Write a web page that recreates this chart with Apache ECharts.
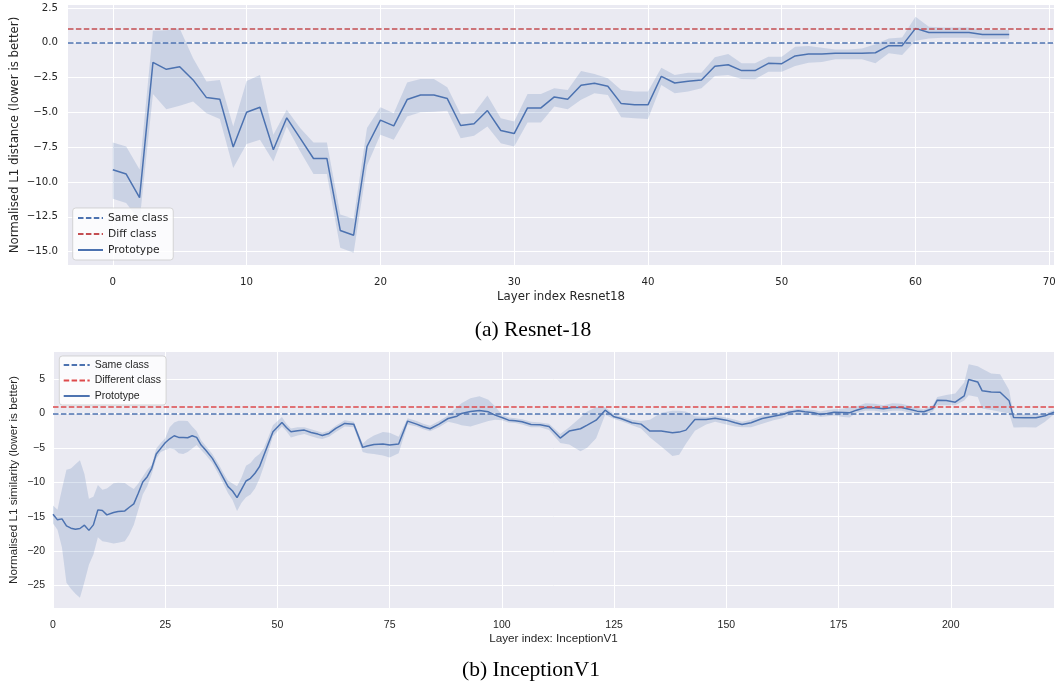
<!DOCTYPE html>
<html><head><meta charset="utf-8">
<script src="https://cdn.jsdelivr.net/npm/echarts@6/dist/echarts.min.js"></script>
<style>html,body{margin:0;padding:0;background:#fff}#c{width:1055px;height:687px}</style>
</head><body><div id="c"></div>
<script>
// ---------- (a) Resnet-18 ----------
const r18Layers = Array.from({length: 68}, (_, i) => i);
const r18Mean = [-9.12,-9.43,-11.12,-1.41,-1.91,-1.72,-2.67,-3.94,-4.06,-7.49,
  -4.99,-4.63,-7.68,-5.39,-6.85,-8.31,-8.31,-13.48,-13.82,-7.45,
  -5.56,-5.97,-4.08,-3.75,-3.75,-4.01,-5.94,-5.82,-4.87,-6.30,
  -6.52,-4.68,-4.68,-3.89,-4.06,-3.05,-2.91,-3.13,-4.37,-4.46,
  -4.46,-2.41,-2.89,-2.77,-2.67,-1.69,-1.58,-2.00,-2.00,-1.48,
  -1.50,-0.95,-0.81,-0.81,-0.76,-0.76,-0.76,-0.72,-0.21,-0.21,
  1.03,0.74,0.74,0.74,0.74,0.60,0.60,0.60];
const r18Upper = [-7.16,-7.45,-9.10,0.86,0.90,1.03,-1.12,-2.79,-2.67,-6.01,
  -2.74,-2.32,-6.60,-4.82,-6.13,-7.16,-7.16,-12.34,-12.63,-6.13,
  -4.63,-5.06,-2.86,-2.60,-2.60,-3.20,-5.13,-5.06,-3.79,-5.42,
  -5.66,-3.68,-3.68,-3.27,-3.39,-2.03,-2.24,-2.55,-3.39,-3.51,
  -3.51,-1.79,-2.32,-2.15,-2.15,-1.05,-0.81,-1.48,-1.48,-1.00,
  -1.00,-0.29,-0.24,-0.36,-0.48,-0.48,-0.41,-0.10,0.31,0.38,
  1.86,1.15,1.10,1.10,1.10,0.91,0.91,0.91];
const r18Lower = [-11.20,-11.50,-12.80,-3.68,-4.77,-4.53,-4.22,-5.06,-5.47,-9.00,
  -7.28,-6.97,-8.52,-6.01,-7.80,-9.43,-9.43,-14.73,-15.08,-8.81,
  -6.61,-6.97,-5.30,-4.99,-4.96,-4.89,-6.85,-6.68,-6.01,-7.21,
  -7.45,-5.73,-5.73,-4.58,-4.77,-4.10,-3.63,-3.75,-5.35,-5.42,
  -5.47,-3.03,-3.63,-3.51,-3.27,-2.39,-2.32,-2.60,-2.63,-2.08,
  -2.08,-1.67,-1.43,-1.38,-1.19,-1.19,-1.19,-1.48,-0.76,-0.88,
  0.14,0.31,0.36,0.36,0.36,0.29,0.29,0.29];
const r18XTicks = [0,10,20,30,40,50,60,70];
const r18YTicks = [2.5,0,-2.5,-5,-7.5,-10,-12.5,-15];
const r18SameClass = 0;
const r18DiffClass = 1;

// ---------- (b) InceptionV1 ----------
const incLayers = [0,1,2,3,4,5,6,7,8,9,10,11,12,13.5,14.5,16,17,18,19,20,
  21,22,23,24,25,26,27,28,29,30,31,32,33,34,35.5,37,38,39,40,41,
  42,43,44,45,46,47,48,49,51,52,53,54.5,56,57.5,59,60,61.5,63,65,67,
  69,70,71.5,73.5,75,77,79,81,82.5,84,86,88,90,91,93,95,97,98.5,100,101.5,
  103,104.5,106.5,108.5,110.5,113,115,117.5,119,121,123,125,126.5,129,131,133,135.5,138,139.5,141,
  143,145.5,147.5,150,152,153.5,155.5,158,160.5,162.5,164,166,167.5,169.5,171,172.5,174,176,177.5,179,
  181,183,185,187,189,191,192.5,194,196,197,199,201,203,204,206,207,209,211,213,214,
  216.5,219,221,223];
const incMean = [-14.65,-15.47,-15.33,-16.34,-16.68,-16.83,-16.73,-16.25,-17.0,-16.2,-14.02,-14.12,-14.75,-14.4,-14.26,-14.17,-13.64,-13.15,-11.6,-9.96,
  -9.19,-7.98,-5.9,-5.08,-4.26,-3.68,-3.24,-3.48,-3.48,-3.53,-3.24,-3.48,-4.59,-5.32,-6.53,-8.22,-9.43,-10.64,-11.27,-12.23,
  -11.03,-9.82,-9.43,-8.7,-7.74,-6.04,-4.35,-2.66,-1.31,-2.03,-2.66,-2.51,-2.42,-2.76,-3.0,-3.19,-2.9,-2.18,-1.45,-1.55,
  -4.93,-4.74,-4.5,-4.45,-4.59,-4.45,-1.11,-1.55,-1.93,-2.22,-1.55,-0.73,-0.39,0,0.29,0.44,0.24,-0.24,-0.58,-0.97,
  -1.06,-1.21,-1.6,-1.64,-1.9,-3.58,-2.56,-2.22,-1.69,-0.97,0.48,-0.48,-0.73,-1.35,-1.55,-2.56,-2.56,-2.8,-2.71,-2.42,
  -0.87,-0.87,-0.68,-0.97,-1.35,-1.6,-1.35,-0.73,-0.39,-0.15,0.19,0.39,0.24,0.1,-0.15,0,0.19,0.15,0.1,0.48,
  0.87,0.82,0.68,0.87,0.87,0.58,0.34,0.24,0.73,1.93,1.89,1.64,2.56,4.93,4.59,3.29,3.14,3.09,1.84,-0.58,
  -0.63,-0.63,-0.34,0.19];
const incLower = [-16.0,-16.9,-19.5,-24.6,-25.5,-26.2,-26.8,-24.5,-22.0,-20.5,-18.0,-18.6,-18.7,-18.9,-18.8,-18.6,-17.6,-16.2,-14.0,-11.8,
  -10.6,-8.8,-6.6,-5.6,-5.3,-5.1,-5.2,-5.8,-5.9,-5.6,-5.1,-4.6,-5.3,-6.0,-7.2,-9.0,-10.3,-11.6,-12.6,-14.2,
  -13.0,-12.2,-11.8,-10.9,-9.5,-7.6,-5.5,-3.3,-1.9,-2.6,-3.5,-3.2,-3.0,-3.3,-3.6,-3.7,-3.4,-2.7,-1.9,-2.0,
  -5.6,-5.8,-5.9,-6.1,-6.4,-5.8,-1.6,-1.9,-2.3,-2.6,-2.0,-1.2,-1.5,-1.7,-1.9,-1.5,-1.1,-0.9,-1.0,-1.3,
  -1.4,-1.6,-2.0,-2.0,-2.4,-4.3,-4.5,-5.5,-5.0,-3.6,-0.2,-0.8,-1.1,-1.7,-2.2,-3.5,-4.8,-6.2,-6.0,-4.4,
  -2.5,-1.6,-1.2,-1.6,-1.9,-2.0,-2.0,-1.5,-1.0,-0.7,-0.3,-0.1,-0.2,-0.3,-0.5,-0.4,-0.3,-0.5,-0.6,0.1,
  0.4,0.4,0.2,0.4,0.4,0.1,-0.1,-0.3,0.3,1.2,1.2,1.2,1.9,2.66,2.4,0.73,0.5,0.25,0.0,-2.03,
  -2.0,-2.03,-1.2,-0.1];
const incUpper = [-13.4,-14.0,-11.0,-8.2,-8.0,-7.4,-6.8,-8.8,-12.4,-12.1,-10.4,-11.1,-10.9,-10.15,-10.06,-10.1,-10.6,-11.0,-10.2,-9.2,
  -8.2,-7.5,-5.1,-4.3,-3.6,-2.0,-1.3,-1.06,-1.06,-1.1,-1.9,-2.6,-3.9,-4.7,-5.9,-7.5,-8.7,-9.8,-10.2,-10.6,
  -9.3,-7.6,-7.2,-6.4,-5.9,-5.0,-3.4,-1.7,-0.5,-1.5,-2.2,-2.0,-2.0,-2.3,-2.6,-2.8,-2.5,-1.8,-1.0,-1.2,
  -4.4,-3.8,-3.2,-2.7,-2.8,-3.4,-0.7,-1.1,-1.5,-1.8,-1.1,-0.3,0.9,1.5,2.2,2.5,2.0,1.0,-0.2,-0.6,
  -0.7,-0.85,-1.2,-1.3,-1.5,-3.0,-2.0,-0.6,0.3,0.9,0.9,-0.1,-0.4,-0.9,-1.1,-0.9,0.1,0.4,0.4,0.3,
  -0.4,-0.5,-0.3,-0.6,-0.9,-1.2,-0.9,-0.3,0.0,0.2,0.5,0.7,0.6,0.5,0.3,0.5,0.6,0.7,0.9,1.0,
  1.5,1.4,1.2,1.5,1.4,1.1,0.8,0.6,1.2,2.4,2.7,2.9,4.5,7.16,6.87,6.5,5.8,5.7,3.4,-0.1,
  -0.2,-0.2,0.0,0.5];
const incXTicks = [0,25,50,75,100,125,150,175,200];
const incYTicks = [5,0,-5,-10,-15,-20,-25];
const incSameClass = 0;
const incDiffClass = 1;

// ---------- styles ----------
const BLUE = '#4c72b0';
const RED_A = '#c44e52';
const RED_B = '#dd4a4c';
const BAND = 'rgba(76,114,176,0.2)';
const DASH = [5.5, 2.4];
const BG = '#eaeaf2';
const TXT = '#262626';
const minusFmt = (d) => (v) => (v < 0 ? '\u2212' : '') + Math.abs(v).toFixed(d);

function band(name, xi, xs, lo, hi) {
  return {
    type: 'custom', name, xAxisIndex: xi, yAxisIndex: xi, silent: true, z: 1,
    data: xs.map((x, i) => [x, lo[i], hi[i]]),
    encode: {x: 0, y: [1, 2]},
    renderItem(params, api) {
      if (params.dataIndex !== 0) return null;
      const pts = [];
      for (let i = 0; i < xs.length; i++) pts.push(api.coord([xs[i], hi[i]]));
      for (let i = xs.length - 1; i >= 0; i--) pts.push(api.coord([xs[i], lo[i]]));
      return {type: 'polygon', shape: {points: pts}, style: {fill: BAND}};
    }
  };
}
function hline(name, xi, y, color) {
  return {
    type: 'line', name, xAxisIndex: xi, yAxisIndex: xi, data: [], symbol: 'none', z: 2,
    itemStyle: {color}, lineStyle: {color, width: 1.5, type: DASH},
    markLine: {silent: true, symbol: 'none', animation: false, label: {show: false},
      lineStyle: {color, width: 1.5, type: DASH}, data: [{yAxis: y}]}
  };
}
function proto(xi, xs, ys) {
  return {
    type: 'line', name: 'Prototype', xAxisIndex: xi, yAxisIndex: xi, z: 3,
    data: xs.map((x, i) => [x, ys[i]]), symbol: 'none', showSymbol: false,
    itemStyle: {color: BLUE}, lineStyle: {color: BLUE, width: 1.5}
  };
}
function axisCommon(ticks, fmt, font, size, margin) {
  return {
    axisLine: {show: false},
    axisTick: {show: false, customValues: ticks},
    axisLabel: {customValues: ticks, formatter: fmt, color: TXT, fontFamily: font, fontSize: size, margin},
    splitLine: {show: true, lineStyle: {color: '#ffffff', width: 1}}
  };
}
const F1 = 'DejaVu Sans';
const F2 = 'Liberation Sans';

const option = {
  animation: false,
  backgroundColor: '#ffffff',
  grid: [
    {left: 68, top: 5, width: 986, height: 260, show: true, backgroundColor: BG, borderWidth: 0,
      containLabel: false, outerBoundsMode: 'none'},
    {left: 53, top: 352, width: 1001, height: 256, show: true, backgroundColor: BG, borderWidth: 0,
      containLabel: false, outerBoundsMode: 'none'}
  ],
  xAxis: [
    Object.assign({type: 'value', gridIndex: 0, min: -3.35, max: 70.35,
      name: 'Layer index Resnet18', nameLocation: 'middle', nameGap: 26,
      nameTextStyle: {color: TXT, fontFamily: F1, fontSize: 11.8}},
      axisCommon(r18XTicks, minusFmt(0), F1, 10.2, 12)),
    Object.assign({type: 'value', gridIndex: 1, min: 0, max: 223,
      name: 'Layer index: InceptionV1', nameLocation: 'middle', nameGap: 24.5,
      nameTextStyle: {color: TXT, fontFamily: F2, fontSize: 11.7}},
      axisCommon(incXTicks, minusFmt(0), F2, 10.5, 12))
  ],
  yAxis: [
    Object.assign({type: 'value', gridIndex: 0, min: -15.96, max: 2.71,
      name: 'Normalised L1 distance (lower is better)', nameLocation: 'middle', nameGap: 47,
      nameMoveOverlap: false,
      nameTextStyle: {color: TXT, fontFamily: F1, fontSize: 11.8}},
      axisCommon(r18YTicks, minusFmt(1), F1, 10.2, 10)),
    Object.assign({type: 'value', gridIndex: 1, min: -28.29, max: 8.94,
      name: 'Normalised L1 similarity (lower is better)', nameLocation: 'middle', nameGap: 33,
      nameMoveOverlap: false,
      nameTextStyle: {color: TXT, fontFamily: F2, fontSize: 11.7}},
      axisCommon(incYTicks, minusFmt(0), F2, 10.5, 8))
  ],
  legend: [
    {orient: 'vertical', left: 72.7, top: 208, itemWidth: 25, itemHeight: 10, itemGap: 5,
      padding: [4.5, 5, 4.5, 4.3], backgroundColor: 'rgba(255,255,255,0.8)',
      borderColor: 'rgba(204,204,204,0.8)', borderWidth: 1, borderRadius: 3,
      itemStyle: {opacity: 0},
      textStyle: {fontFamily: F1, fontSize: 10.7, color: TXT},
      data: ['Same class', 'Diff class', 'Prototype']},
    {orient: 'vertical', left: 59.3, top: 356, itemWidth: 26, itemHeight: 10, itemGap: 4.5,
      padding: [3.5, 5, 3.5, 3.4], backgroundColor: 'rgba(255,255,255,0.8)',
      borderColor: 'rgba(204,204,204,0.8)', borderWidth: 1, borderRadius: 3,
      itemStyle: {opacity: 0},
      textStyle: {fontFamily: F2, fontSize: 10.5, color: TXT},
      data: ['Same class', 'Different class', 'Prototype']}
  ],
  graphic: [
    {type: 'text', x: 533, y: 330, style: {text: '(a) Resnet-18', font: '21.5px "Liberation Serif"',
      fill: '#000', textAlign: 'center', textVerticalAlign: 'middle'}},
    {type: 'text', x: 531, y: 670, style: {text: '(b) InceptionV1', font: '21.5px "Liberation Serif"',
      fill: '#000', textAlign: 'center', textVerticalAlign: 'middle'}}
  ],
  series: [
    band('r18band', 0, r18Layers, r18Lower, r18Upper),
    hline('Same class', 0, r18SameClass, BLUE),
    hline('Diff class', 0, r18DiffClass, RED_A),
    proto(0, r18Layers, r18Mean),
    band('incband', 1, incLayers, incLower, incUpper),
    hline('Same class', 1, incSameClass, BLUE),
    hline('Different class', 1, incDiffClass, RED_B),
    proto(1, incLayers, incMean)
  ]
};
const chart = echarts.init(document.getElementById('c'), null, {renderer: 'canvas'});
chart.setOption(option);
</script>
</body></html>
